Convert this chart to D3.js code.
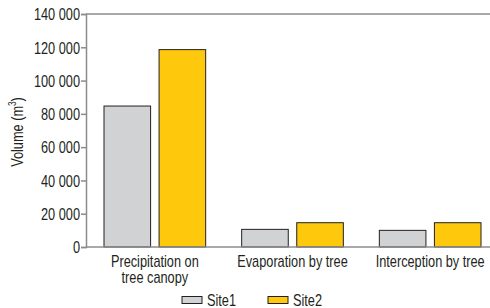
<!DOCTYPE html>
<html>
<head>
<meta charset="utf-8">
<script src="https://cdn.jsdelivr.net/npm/d3@7"></script>
<style>
    body { margin: 0; background: #fff; }
    svg { display: block; font-family: "Liberation Sans", Arial, sans-serif; }
</style>
</head>
<body>
<div id="chart"></div>
<script>
// dados do gráfico
var categories = ["Precipitation on\ntree canopy", "Evaporation by tree", "Interception by tree"];
var seriesNames = ["Site1", "Site2"];
var site1 = [84700, 10600, 10000];
var site2 = [118600, 14600, 14600];
var yTicks = [0, 20000, 40000, 60000, 80000, 100000, 120000, 140000];
var colors = ["#d1d2d4", "#fec90c"];

var width = 490, height = 308;
var margin = { left: 86, top: 14, bottom: 61 };
var squeeze = 0.75;   // imita a fonte condensada
var fontSize = 17;

var svg = d3.select("#chart").append("svg")
    .attr("width", width)
    .attr("height", height);

var x0 = d3.scaleBand()
    .domain(categories)
    .range([margin.left, 499])
    .padding(0);

var x1 = d3.scaleBand()
    .domain(seriesNames)
    .range([18, x0.bandwidth() - 18])
    .paddingInner(0.154);

var y = d3.scaleLinear()
    .domain([0, 140000])
    .range([height - margin.bottom, margin.top]);

var fmt = d => d3.format(",")(d).replace(/,/g, " ");

// moldura superior
svg.append("line")
    .attr("x1", margin.left).attr("x2", width)
    .attr("y1", y(140000)).attr("y2", y(140000))
    .attr("stroke", "#8c8c8c").attr("stroke-width", 1.5);

// barras
var rows = categories.map((c, i) => ({ cat: c, values: [site1[i], site2[i]] }));
svg.append("g").selectAll("g")
    .data(rows)
    .join("g")
    .attr("transform", d => `translate(${x0(d.cat)},0)`)
    .selectAll("rect")
    .data(d => d.values.map((v, j) => ({ key: seriesNames[j], value: v, color: colors[j] })))
    .join("rect")
    .attr("x", d => x1(d.key))
    .attr("width", x1.bandwidth())
    .attr("y", d => y(d.value))
    .attr("height", d => y(0) - y(d.value))
    .attr("fill", d => d.color)
    .attr("stroke", "#231f20")
    .attr("stroke-width", 1);

// eixo y
var yAxis = svg.append("g")
    .attr("transform", `translate(${margin.left},0)`)
    .call(d3.axisLeft(y).tickValues(yTicks).tickFormat(fmt).tickSize(5).tickPadding(4));
yAxis.select(".domain").attr("stroke", "#8c8c8c").attr("stroke-width", 1.5);
yAxis.selectAll(".tick line").attr("stroke", "#8c8c8c").attr("stroke-width", 1.5);
yAxis.selectAll(".tick text")
    .attr("font-size", fontSize)
    .attr("fill", "#231f20")
    .attr("font-family", null)
    .attr("x", -6 / squeeze)
    .attr("dy", "0.34em")
    .attr("transform", `scale(${squeeze},1)`);

// linha de base
svg.append("line")
    .attr("x1", margin.left).attr("x2", width)
    .attr("y1", y(0)).attr("y2", y(0))
    .attr("stroke", "#8c8c8c").attr("stroke-width", 1.5);

// rótulos x
svg.append("g").selectAll("g")
    .data(categories)
    .join("g")
    .attr("transform", d => `translate(${x0(d) + x0.bandwidth() / 2},267)`)
    .append("text")
    .attr("transform", `scale(${squeeze},1)`)
    .attr("text-anchor", "middle")
    .attr("font-size", fontSize)
    .attr("fill", "#231f20")
    .selectAll("tspan")
    .data(d => d.split("\n"))
    .join("tspan")
    .attr("x", 0)
    .attr("dy", (l, i) => i === 0 ? 0 : 15.5)
    .text(l => l);

// título do eixo y
var ylab = svg.append("text")
    .attr("transform", `translate(23,132) rotate(-90) scale(${squeeze},1)`)
    .attr("text-anchor", "middle")
    .attr("font-size", fontSize)
    .attr("fill", "#231f20");
ylab.append("tspan").text("Volume (m");
ylab.append("tspan").attr("dy", -7).attr("font-size", 11).text("3");
ylab.append("tspan").attr("dy", 7).text(")");

// legenda
var legendX = [182, 268];
var legend = svg.append("g").selectAll("g")
    .data(seriesNames)
    .join("g")
    .attr("transform", (d, i) => `translate(${legendX[i]},296.5)`);
legend.append("rect")
    .attr("width", 20).attr("height", 7)
    .attr("fill", (d, i) => colors[i])
    .attr("stroke", "#231f20").attr("stroke-width", 1);
legend.append("text")
    .attr("transform", `translate(25,9) scale(${squeeze},1)`)
    .attr("font-size", fontSize)
    .attr("fill", "#231f20")
    .text(d => d);
</script>
</body>
</html>
